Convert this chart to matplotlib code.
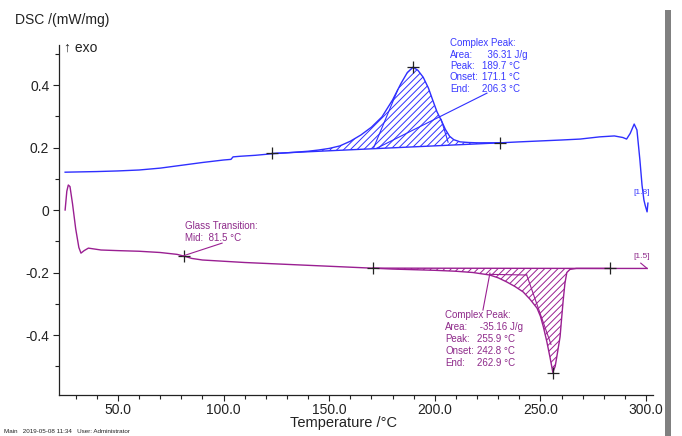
import matplotlib
matplotlib.use("Agg")
import matplotlib.pyplot as plt
from matplotlib.ticker import MultipleLocator, FixedLocator
import numpy as np

plt.rcParams['font.family'] = ['Liberation Sans', 'DejaVu Sans']
plt.rcParams['hatch.linewidth'] = 0.7

# ---- data ----
blue_T = [25, 40, 50, 60, 70, 80, 90, 100, 103.5, 104.5, 108, 115, 123, 130, 140, 145, 150, 155,
          160, 165, 170, 175, 180, 184, 187, 189.7, 192, 194.5, 197, 199, 201, 203.4, 205, 207,
          209, 212, 216, 220, 231, 240, 250, 260, 268.8, 278, 285, 289, 290.8, 292.5, 294.4,
          295.7, 297.1, 298.1, 299.0, 299.6, 300.5, 300.9]
blue_y = [0.121, 0.123, 0.125, 0.128, 0.134, 0.143, 0.152, 0.160, 0.162, 0.170, 0.172, 0.175, 0.180,
          0.183, 0.188, 0.192, 0.197, 0.205, 0.220, 0.240, 0.265, 0.298, 0.352, 0.405, 0.440, 0.457,
          0.447, 0.425, 0.390, 0.352, 0.315, 0.282, 0.258, 0.236, 0.225, 0.218, 0.216, 0.215, 0.215,
          0.218, 0.221, 0.224, 0.227, 0.234, 0.237, 0.232, 0.227, 0.245, 0.275, 0.256, 0.160, 0.080,
          0.032, 0.015, -0.006, 0.022]

purple_T = [25.0, 25.8, 26.5, 27.3, 28.5, 30, 31.5, 32.5, 34, 36, 38, 42, 50, 60, 70, 78, 81.5, 85,
            90, 95, 100, 110, 120, 130, 140, 150, 160, 170, 180, 190, 200, 210, 218, 226, 230, 234,
            238, 241.8, 245, 248.4, 250, 251.4, 253, 254.5, 255.9, 257, 258, 259.3, 260, 260.8,
            261.6, 262.5, 264, 267, 270, 283, 300.5]
purple_y = [0.0, 0.06, 0.08, 0.075, 0.02, -0.06, -0.12, -0.138, -0.13, -0.122, -0.124, -0.128,
            -0.130, -0.132, -0.136, -0.142, -0.148, -0.155, -0.160, -0.162, -0.164, -0.168, -0.171,
            -0.174, -0.177, -0.180, -0.183, -0.186, -0.189, -0.191, -0.193, -0.196, -0.200, -0.208,
            -0.217, -0.230, -0.245, -0.262, -0.285, -0.314, -0.340, -0.374, -0.420, -0.470, -0.520,
            -0.500, -0.460, -0.406, -0.350, -0.288, -0.235, -0.200, -0.190, -0.187, -0.187, -0.187,
            -0.187]

blue_marks_T = [123, 189.7, 231]
blue_marks_y = [0.181, 0.457, 0.215]
purple_marks_T = [81.5, 170.8, 255.9, 283]
purple_marks_y = [-0.148, -0.186, -0.520, -0.187]

blue_base_T = [123, 231]
blue_base_y = [0.181, 0.215]
purple_base_T = [170.8, 283]
purple_base_y = [-0.186, -0.187]

x_ticks = [50, 100, 150, 200, 250, 300]
x_tick_labels = ["50.0", "100.0", "150.0", "200.0", "250.0", "300.0"]
y_ticks = [-0.4, -0.2, 0, 0.2, 0.4]
y_tick_labels = ["-0.4", "-0.2", "0", "0.2", "0.4"]

BLUE = '#2f2fff'
PURPLE = '#9a1f92'
PTEXT = '#8e2a8a'
BTEXT = '#3a3aff'

W, H = 682, 436
fig = plt.figure(figsize=(W/100, H/100), dpi=100)
ax = fig.add_axes([59/W, 1-395/H, (653-59)/W, (395-45)/H])

ax.set_xlim(22.1, 303.3)
ax.set_ylim(-0.592, 0.528)

bT = np.array(blue_T); by = np.array(blue_y)
pT = np.array(purple_T); py = np.array(purple_y)

# hatched areas
bb = np.interp(bT, blue_base_T, blue_base_y)
m = (bT >= 123) & (bT <= 231)
ax.fill_between(bT[m], bb[m], by[m], where=by[m] >= bb[m], facecolor='none',
                edgecolor=BLUE, hatch='/////', linewidth=0, interpolate=True)
pb = np.interp(pT, purple_base_T, purple_base_y)
m2 = (pT >= 170.8) & (pT <= 283)
ax.fill_between(pT[m2], pb[m2], py[m2], where=py[m2] <= pb[m2], facecolor='none',
                edgecolor=PURPLE, hatch='/////', linewidth=0, interpolate=True)

ax.plot(bT, by, color=BLUE, lw=1.0)
ax.plot(pT, py, color=PURPLE, lw=1.0)
ax.plot(blue_base_T, blue_base_y, color=BLUE, lw=1.0)
ax.plot(purple_base_T, purple_base_y, color=PURPLE, lw=1.0)

# construction lines
ax.plot([171.1, 182.5], [0.200, 0.385], color=BLUE, lw=0.8)
ax.plot([203.0, 206.3], [0.290, 0.217], color=BLUE, lw=0.8)
ax.plot([226, 243.5], [-0.206, -0.208], color=PURPLE, lw=0.8)
ax.plot([243.5, 255], [-0.208, -0.43], color=PURPLE, lw=0.8)

# markers
ax.plot(blue_marks_T, blue_marks_y, ls='none', marker='+', ms=9, mew=0.9, color='#222222')
ax.plot(purple_marks_T, purple_marks_y, ls='none', marker='+', ms=9, mew=0.9, color='#222222')

# leader lines
ax.plot([224.7, 172.6], [0.374, 0.198], color=BLUE, lw=0.8)
ax.plot([222.8, 226.1], [-0.32, -0.202], color=PURPLE, lw=0.8)
ax.plot([99.3, 80.8], [-0.106, -0.147], color=PURPLE, lw=0.8)
ax.plot([297.5, 300.5], [-0.170, -0.187], color=PURPLE, lw=0.8)

# axes styling
for s in ['top', 'right']:
    ax.spines[s].set_visible(False)
for s in ['left', 'bottom']:
    ax.spines[s].set_linewidth(0.9)
    ax.spines[s].set_color('#222222')
ax.xaxis.set_major_locator(FixedLocator(x_ticks))
ax.set_xticklabels(x_tick_labels)
ax.xaxis.set_minor_locator(MultipleLocator(10))
ax.yaxis.set_major_locator(FixedLocator(y_ticks))
ax.set_yticklabels(y_tick_labels)
ax.yaxis.set_minor_locator(MultipleLocator(0.1))
ax.tick_params(which='both', direction='out', length=4, width=0.8, color='#222222',
               labelsize=10, labelcolor='#222222')
ax.tick_params(axis='x', which='major', pad=1.5)
ax.tick_params(axis='y', which='major', pad=3)
ax.tick_params(which='minor', length=3)

# texts
def ftxt(x, y, s, **kw):
    fig.text(x/W, 1-y/H, s, **kw)

ftxt(15, 20, "DSC /(mW/mg)", fontsize=10, va='center', color='#222222')
ftxt(64, 48, "\u2191 exo", fontsize=10, va='center', color='#222222')
ftxt(343, 423, "Temperature /\u00b0C", fontsize=10.5, ha='center', va='center', color='#222222')
ftxt(4, 431, "Main   2019-05-08 11:34   User: Administrator", fontsize=4.5, va='center', color='#222222')

fs = 7
bl = [("Complex Peak:", ""), ("Area:", "  36.31 J/g"), ("Peak:", "189.7 \u00b0C"),
      ("Onset:", "171.1 \u00b0C"), ("End:", "206.3 \u00b0C")]
for i, (a, b) in enumerate(bl):
    yy = 43 + i*11.5
    ftxt(450, yy, a, fontsize=fs, va='center', color=BTEXT)
    if b:
        ftxt(482, yy, b, fontsize=fs, va='center', color=BTEXT)

pl = [("Complex Peak:", ""), ("Area:", " -35.16 J/g"), ("Peak:", "255.9 \u00b0C"),
      ("Onset:", "242.8 \u00b0C"), ("End:", "262.9 \u00b0C")]
for i, (a, b) in enumerate(pl):
    yy = 315 + i*12
    ftxt(445, yy, a, fontsize=fs, va='center', color=PTEXT)
    if b:
        ftxt(477, yy, b, fontsize=fs, va='center', color=PTEXT)

ftxt(185, 226, "Glass Transition:", fontsize=fs, va='center', color=PTEXT)
ftxt(185, 238, "Mid:  81.5 \u00b0C", fontsize=fs, va='center', color=PTEXT)
ftxt(633, 192, "[1.8]", fontsize=6, va='center', color=BTEXT)
ftxt(633, 257, "[1.5]", fontsize=6, va='center', color=PTEXT)

# gray bar at right
fig.patches.append(plt.Rectangle((665/W, 0), 6/W, 1-10/H, transform=fig.transFigure,
                                 facecolor='#808080', edgecolor='none'))

fig.savefig("out.png", dpi=100)
